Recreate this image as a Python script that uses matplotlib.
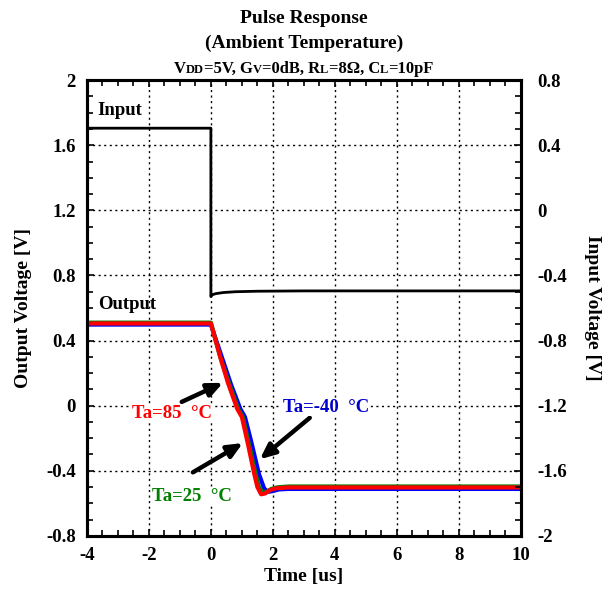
import matplotlib
matplotlib.use("Agg")
import matplotlib.pyplot as plt
from matplotlib.offsetbox import TextArea, HPacker, VPacker, AnchoredOffsetbox
from matplotlib.ticker import MultipleLocator

plt.rcParams['font.family'] = ['Liberation Serif', 'DejaVu Serif']
plt.rcParams['font.weight'] = 'bold'
plt.rcParams['axes.unicode_minus'] = False

# input pulse (right axis, V)
t_in = [-4, 0, 0.0, 0.03, 0.15, 0.4, 0.8, 1.5, 3, 10]
v_in = [0.505, 0.505, -0.53, -0.52, -0.512, -0.505, -0.500, -0.497, -0.495, -0.495]

# output responses (left axis, V)
t_85 = [-4, 0, 0.3, 0.55, 0.85, 1.0, 1.2, 1.4, 1.5, 1.62, 1.75, 1.9, 2.1, 2.5, 10]
v_85 = [0.505, 0.505, 0.3, 0.14, -0.02, -0.07, -0.24, -0.42, -0.50, -0.545, -0.54, -0.52, -0.508, -0.503, -0.503]

t_25 = [-4, 0, 0.3, 0.58, 0.88, 1.03, 1.22, 1.42, 1.55, 1.68, 1.8, 1.95, 2.15, 2.5, 10]
v_25 = [0.51, 0.51, 0.3, 0.14, -0.02, -0.07, -0.23, -0.40, -0.50, -0.535, -0.53, -0.512, -0.502, -0.497, -0.497]

t_m40 = [-4, 0, 0.35, 0.65, 0.95, 1.1, 1.3, 1.55, 1.72, 1.85, 2.0, 2.2, 2.5, 10]
v_m40 = [0.498, 0.498, 0.3, 0.13, -0.02, -0.07, -0.22, -0.42, -0.51, -0.53, -0.525, -0.515, -0.512, -0.512]

fig = plt.figure(figsize=(6.12, 5.94), dpi=100)
ax = fig.add_axes([0.142, 0.098, 0.709, 0.767])
ax2 = ax.twinx()

ax.set_xlim(-4, 10)
ax.set_ylim(-0.8, 2.0)
ax2.set_ylim(-2.0, 0.8)

ax.xaxis.set_major_locator(MultipleLocator(2))
ax.xaxis.set_minor_locator(MultipleLocator(0.5))
ax.yaxis.set_major_locator(MultipleLocator(0.4))
ax.yaxis.set_minor_locator(MultipleLocator(0.1))
ax2.yaxis.set_major_locator(MultipleLocator(0.4))
ax2.yaxis.set_minor_locator(MultipleLocator(0.1))

ax.grid(True, which='major', color='black', linestyle=(0, (1.5, 2.5)), linewidth=1.0)
ax.tick_params(which='both', direction='in', top=True, labelsize=13.5, width=1.2)
ax.tick_params(which='major', length=5, pad=8)
ax.tick_params(which='minor', length=4)
ax2.tick_params(which='both', direction='in', labelsize=13.5, width=1.2)
ax2.tick_params(which='major', length=5, pad=12)
ax2.tick_params(which='minor', length=4)
for a in (ax, ax2):
    for s in a.spines.values():
        s.set_linewidth(2.2)

ax.yaxis.set_major_formatter(lambda v, p: f"{v:g}" if abs(v) > 1e-9 else "0")
ax2.yaxis.set_major_formatter(lambda v, p: f"{v:g}" if abs(v) > 1e-9 else "0")

ax2.plot(t_in, v_in, color='black', lw=2.0)
ax.plot(t_m40, v_m40, color='#0000ff', lw=3.0, zorder=3)
ax.plot(t_25, v_25, color='#008000', lw=3.0, zorder=3)
ax.plot(t_85, v_85, color='#ff0000', lw=3.0, zorder=4)

ax.set_xlabel("Time [us]", fontsize=14, fontweight='bold', labelpad=3)
ax.set_ylabel("Output Voltage [V]", fontsize=14, fontweight='bold', labelpad=10)
ax2.set_ylabel("Input Voltage [V]", fontsize=14, fontweight='bold', rotation=-90, labelpad=24)

ax.text(-3.65, 1.815, "Input", fontsize=13.5, fontweight='bold', va='center')
ax.text(-3.65, 0.62, "Output", fontsize=13.5, fontweight='bold', va='center')

arrow = dict(arrowstyle='-|>,head_length=0.9,head_width=0.4', color='black', lw=3.2, shrinkA=0, shrinkB=0)
ax.annotate("", xy=(0.39, 0.14), xytext=(-0.94, 0.023), arrowprops=arrow, zorder=5)
ax.annotate("", xy=(1.03, -0.23), xytext=(-0.58, -0.41), arrowprops=arrow, zorder=5)
ax.annotate("", xy=(1.58, -0.33), xytext=(3.19, -0.075), arrowprops=arrow, zorder=5)

box = dict(facecolor='white', edgecolor='none', pad=0.5)
ax.text(-1.26, -0.05, "Ta=85  °C", color='#ff0000', fontsize=13.5, fontweight='bold',
        ha='center', va='center', bbox=box, zorder=5)
ax.text(-0.61, -0.56, "Ta=25  °C", color='#008000', fontsize=13.5, fontweight='bold',
        ha='center', va='center', bbox=box, zorder=5)
ax.text(3.71, -0.01, "Ta=-40  °C", color='#0000cc', fontsize=13.5, fontweight='bold',
        ha='center', va='center', bbox=box, zorder=5)

# title block
big = dict(fontsize=14, fontweight='bold')
mid = dict(fontsize=12, fontweight='bold')
small = dict(fontsize=9, fontweight='bold')
parts = [("V", mid), ("DD", small), ("=5V, G", mid), ("V", small), ("=0dB, R", mid),
         ("L", small), ("=8Ω, C", mid), ("L", small), ("=10pF", mid)]
line3 = HPacker(children=[TextArea(s, textprops=p) for s, p in parts], align="baseline", pad=0, sep=0)
block = VPacker(children=[TextArea("Pulse Response", textprops=big),
                          TextArea("(Ambient Temperature)", textprops=big),
                          line3], align="center", pad=0, sep=6)
anch = AnchoredOffsetbox(loc='lower center', child=block, pad=0, frameon=False,
                         bbox_to_anchor=(0.5, 1.008), bbox_transform=ax.transAxes, borderpad=0)
ax.add_artist(anch)

fig.savefig("out.png", dpi=100)
